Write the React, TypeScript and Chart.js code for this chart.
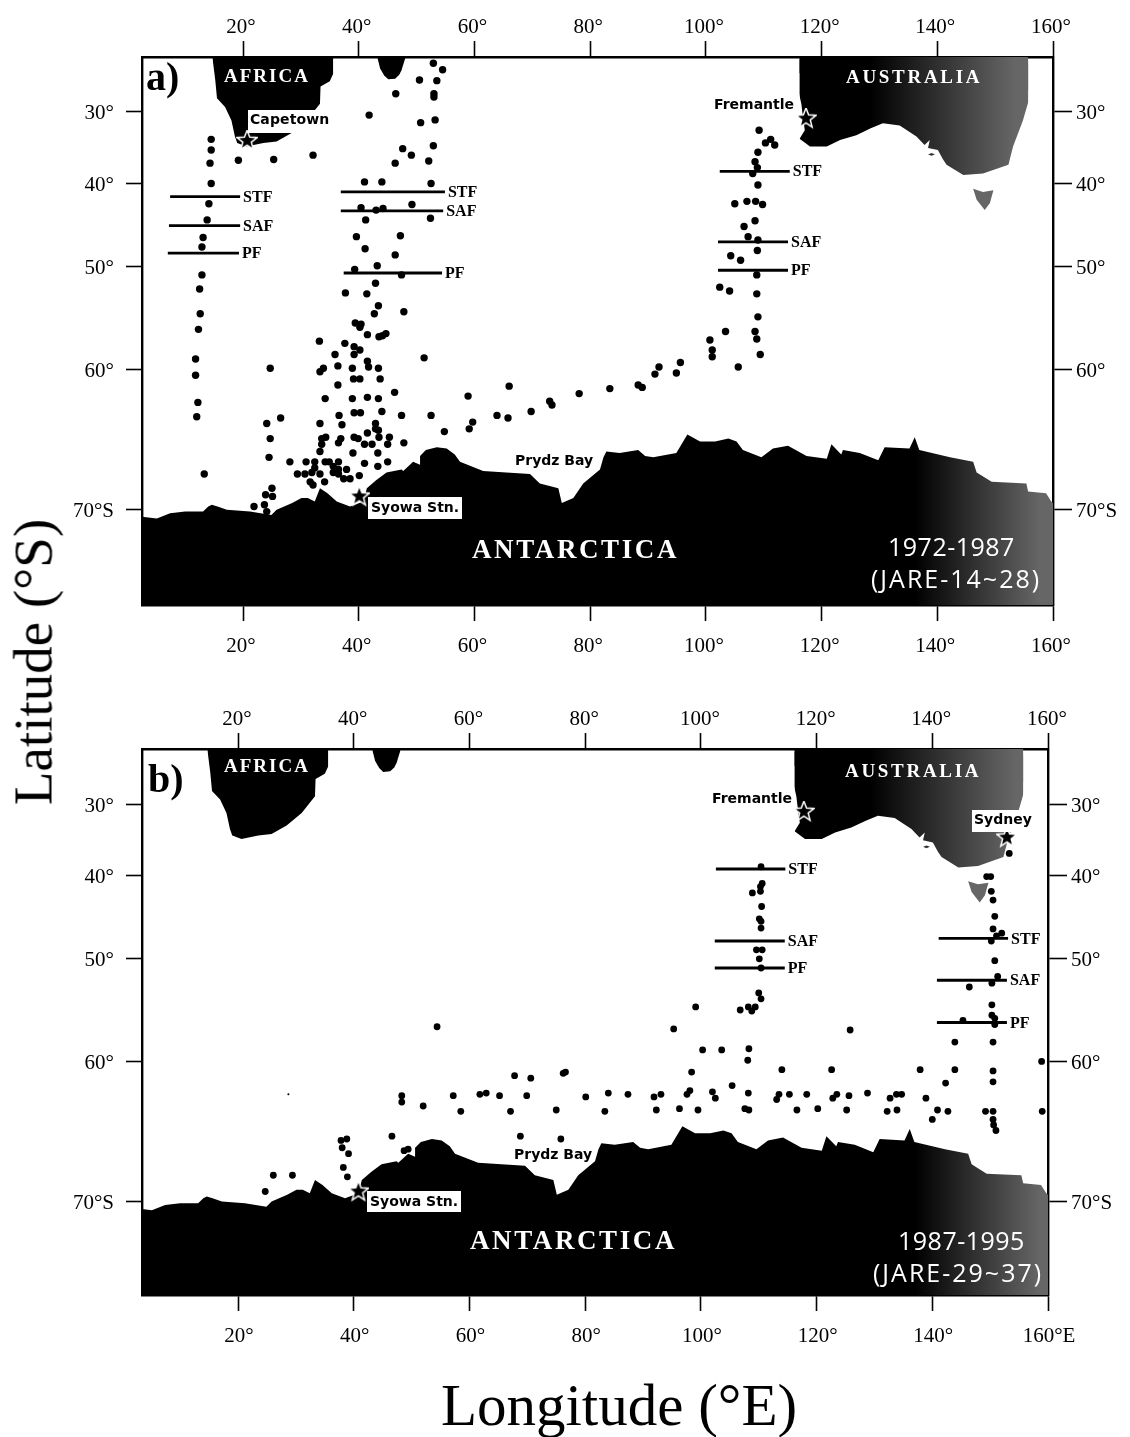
import React, { useEffect, useRef } from "react";
import { Chart, registerables, LinearScale } from "chart.js";

// ---------- tick values ----------
const lonTicks = [20, 40, 60, 80, 100, 120, 140, 160];
const latTicks = [30, 40, 50, 60, 70];

// ---------- coastlines [lon °E, lat °S] ----------
const africa = [[14.7,21.6],[15.2,25.2],[15.5,28.0],[16.9,29.3],[18.0,31.3],[18.6,33.6],[19.0,34.5],[20.6,35.0],[23.5,34.5],[25.8,34.3],[28.4,33.1],[31.0,31.3],[33.3,28.8],[33.4,26.2],[35.0,25.4],[35.6,24.2],[35.6,21.6]];
const madagascar = [[43.2,21.6],[43.7,23.4],[44.4,24.5],[45.1,25.1],[46.3,25.0],[47.0,24.4],[47.4,23.7],[48.1,21.6]];
const australia = [[116.2,21.6],[115.7,24.2],[115.7,25.7],[116.5,28.8],[116.8,31.0],[117.1,32.7],[116.2,33.9],[118.0,35.0],[120.9,35.0],[123.2,34.1],[126.0,33.4],[128.5,32.4],[130.6,31.7],[133.5,32.0],[136.4,33.6],[137.8,34.8],[138.7,34.1],[138.4,35.2],[140.1,35.5],[141.0,36.8],[141.6,37.5],[144.5,38.9],[147.9,38.7],[152.3,37.5],[153.1,35.0],[154.8,31.3],[156.3,26.8],[155.7,21.6]];
const tasmania = [[146.2,40.7],[146.8,42.1],[148.2,43.4],[149.1,42.5],[149.7,40.9],[147.9,41.1],[146.2,40.7]];
const kangaroo = [[138.4,36.1],[139.0,35.9],[139.6,36.1],[139.0,36.3],[138.4,36.1]];
const antarctica = [[2.5,70.4],[5.1,70.5],[7.4,70.2],[10.0,70.1],[13.1,70.1],[14.0,69.8],[14.6,69.7],[15.6,69.8],[17.2,70.0],[21.2,70.1],[24.9,70.3],[25.8,70.0],[28.5,69.6],[30.1,69.3],[31.2,69.3],[32.4,69.5],[33.3,68.7],[34.6,69.0],[36.2,69.5],[38.5,69.8],[40.8,69.5],[41.4,68.7],[43.0,68.2],[44.8,67.7],[47.4,67.5],[47.7,67.6],[49.4,67.0],[50.6,67.2],[50.6,66.6],[51.6,66.2],[53.5,66.0],[55.2,66.1],[56.6,66.5],[57.5,67.0],[61.5,67.6],[65.5,67.7],[69.6,67.8],[71.3,68.4],[74.5,68.7],[75.1,69.6],[77.1,69.3],[78.8,68.4],[81.7,67.5],[82.3,66.7],[82.8,66.3],[85.1,66.4],[88.3,66.2],[89.5,66.6],[90.9,66.7],[94.9,66.4],[96.8,65.1],[99.0,65.6],[101.6,65.6],[103.9,65.4],[105.3,65.6],[106.4,66.2],[109.6,66.7],[111.6,66.1],[114.2,65.9],[117.4,66.6],[120.9,66.8],[121.7,65.8],[123.4,66.5],[123.7,66.2],[126.6,66.4],[129.8,66.9],[130.9,66.0],[135.2,66.1],[136.1,65.3],[136.9,66.2],[142.2,66.7],[146.2,67.0],[146.8,67.7],[149.4,68.3],[155.4,68.4],[155.7,68.9],[158.8,69.0],[159.7,69.5],[160.0,69.6]];

// ---------- panel a) stations 1972-1987 ----------
const westTrackA = [[14.5,34.0],[14.5,35.5],[14.3,37.3],[14.5,40.0],[14.1,42.6],[13.8,44.6],[13.1,46.7],[12.9,47.8],[12.9,50.9],[12.5,52.4],[12.6,54.9],[12.3,56.4],[11.8,59.1],[11.8,60.5],[12.2,62.7],[12.0,63.8],[13.3,67.8]];
const capeTrackA = [[19.2,36.9],[25.3,36.8],[32.1,36.2]];
const centralNorthA = [[52.9,22.6],[54.5,23.6],[50.5,25.2],[53.5,25.3],[46.4,27.3],[53.0,27.3],[53.0,27.8],[41.8,30.5],[50.7,31.6],[53.2,31.2],[47.6,35.3],[52.9,34.9],[49.1,36.2],[46.3,37.3],[52.1,37.0],[41.0,39.8],[44.0,39.8],[52.5,40.0],[49.2,42.7],[40.4,43.1],[43.0,43.4],[44.2,43.2],[41.2,44.6],[52.4,44.4],[39.6,46.6],[47.2,46.5],[41.1,48.0],[46.3,48.7],[39.3,50.3],[43.2,49.9],[47.4,50.9],[42.9,51.8],[37.7,52.8],[41.4,52.9],[43.4,54.1],[42.7,54.9],[47.8,54.7],[39.4,55.8],[40.4,55.9],[40.2,56.2],[41.5,56.9],[43.5,57.1],[44.1,57.0],[44.7,56.8]];
const centralSouthA = [[33.2,57.5],[37.6,57.7],[39.2,58.0],[40.2,58.3],[39.2,58.7],[35.9,58.7],[41.5,59.3],[41.7,59.8],[36.4,59.7],[38.9,59.9],[43.4,59.9],[33.9,59.9],[33.3,60.2],[39.1,60.8],[40.2,60.8],[43.7,60.8],[36.4,61.3],[51.3,59.0],[46.2,61.9],[34.2,62.4],[38.9,62.4],[41.5,62.3],[43.4,62.4],[39.2,63.5],[40.3,63.5],[44.0,63.4],[36.6,63.7],[47.4,63.7],[26.5,63.9],[24.7,59.9],[24.1,64.3],[33.3,64.3],[37.1,64.4],[42.9,64.3],[42.9,64.7],[41.5,65.0],[43.4,64.8],[43.5,65.3],[34.3,65.3],[33.6,65.4],[33.6,65.8],[36.9,65.4],[36.5,65.7],[39.2,65.3],[39.9,65.4],[45.3,65.3],[45.0,65.8],[47.8,65.7],[41.0,65.8],[42.3,65.8],[24.7,65.4],[33.3,66.3],[39.0,66.4],[43.3,66.4],[24.5,66.7]];
const shelfA = [[45.0,67.0],[41.0,67.1],[43.3,67.3],[28.1,67.0],[30.9,67.0],[32.4,67.0],[32.4,67.4],[34.2,67.0],[34.9,67.0],[36.5,67.0],[35.6,67.3],[36.5,67.5],[35.6,67.7],[36.5,67.8],[37.9,67.5],[37.4,68.1],[38.5,68.1],[40.1,67.9],[29.4,67.8],[30.7,67.8],[31.9,67.7],[33.3,67.8],[31.6,68.3],[32.1,68.5],[34.1,68.3],[25.0,68.7],[23.9,69.1],[25.1,69.2],[21.9,69.8],[23.7,69.7],[24.1,70.1]];
const crossingA = [[52.5,63.7],[54.8,64.9],[58.9,62.2],[59.7,64.2],[59.1,64.7],[63.9,63.7],[65.8,63.9],[66.0,61.4],[69.8,63.4],[73.0,62.6],[73.4,62.9],[78.1,62.0],[83.4,61.6],[88.3,61.3],[89.0,61.5],[91.2,60.4],[91.9,59.8],[94.9,60.3],[95.6,59.4]];
const eastTrackA = [[109.2,32.7],[110.3,34.5],[111.2,34.0],[111.9,34.8],[109.0,35.8],[108.5,37.1],[108.9,37.9],[108.1,38.7],[109.0,40.2],[105.0,42.6],[107.1,42.3],[108.6,42.3],[109.8,42.7],[106.6,45.4],[108.5,44.7],[107.3,46.6],[109.0,47.0],[108.9,48.2],[104.3,48.8],[106.0,49.3],[108.8,50.9],[102.4,52.2],[104.1,52.6],[108.8,52.9],[109.0,55.2],[103.4,56.6],[108.5,56.6],[108.8,57.3],[100.7,57.4],[101.1,58.3],[101.1,58.9],[109.4,58.7],[105.6,59.8]];

// ---------- panel b) stations 1987-1995 ----------
const midTrackB = [[110.4,38.8],[110.6,41.0],[110.3,41.4],[110.3,42.0],[108.9,42.2],[110.5,43.9],[110.1,45.4],[110.4,45.7],[110.4,46.5],[109.6,49.0],[110.6,49.0],[110.1,50.0],[110.4,51.0],[110.0,53.6],[110.4,54.2],[109.4,55.0],[108.8,55.4],[108.2,55.0],[106.8,55.3],[99.1,55.0],[95.3,57.1],[125.8,57.2]];
const farTrackB = [[153.3,37.0],[149.4,40.1],[150.1,40.1],[150.2,42.0],[150.5,43.1],[150.8,45.1],[150.5,46.6],[152.0,47.1],[151.1,47.4],[150.2,48.0],[150.8,50.2],[151.3,51.9],[150.3,52.6],[146.4,53.0],[150.3,54.8],[150.3,55.8],[150.8,56.1],[150.8,56.7],[145.3,56.3],[143.9,58.3],[150.5,58.3],[143.9,60.7],[150.5,60.8],[150.5,61.7],[142.3,61.8],[158.9,60.0],[137.9,60.7],[138.9,63.0],[140.0,64.6],[140.9,63.9],[142.7,64.0],[149.2,64.0],[150.5,64.0],[150.5,64.6],[150.6,65.0],[151.0,65.4],[159.0,64.0]];
const eastBandB = [[100.3,59.0],[103.6,59.0],[108.3,58.9],[108.1,59.9],[98.4,60.9],[114.0,60.7],[122.6,60.7],[105.4,62.0],[84.0,62.6],[87.4,62.7],[91.9,62.9],[93.1,62.7],[98.1,62.4],[97.6,62.7],[102.0,62.5],[102.5,63.0],[108.2,62.6],[113.5,62.7],[113.1,63.1],[115.3,62.7],[118.3,62.7],[123.5,62.7],[122.8,63.0],[125.6,62.8],[128.8,62.6],[132.7,63.0],[133.8,62.7],[134.7,62.7],[83.4,64.0],[92.3,63.9],[96.3,63.8],[99.5,63.9],[107.6,63.8],[108.3,63.9],[116.6,63.9],[120.2,63.8],[125.2,63.9],[132.2,64.0],[133.9,63.9]];
const westBandB = [[54.4,56.9],[67.8,61.2],[70.6,61.4],[76.2,61.0],[76.6,60.9],[48.3,62.8],[48.3,63.3],[57.2,62.8],[61.8,62.7],[62.9,62.6],[65.2,62.8],[69.9,62.8],[80.1,62.9],[52.0,63.6],[58.5,64.0],[67.1,64.0],[75.0,63.9],[46.6,65.8],[68.8,65.8],[75.8,66.0]];
const syowaB = [[37.8,66.1],[38.8,66.0],[38.0,66.6],[39.1,67.0],[38.2,67.9],[38.9,68.5],[48.7,66.8],[49.4,66.7],[26.1,68.4],[29.4,68.4],[24.7,69.4]];
const specksB = [[28.7,62.7]];

// ---------- fronts: name, lat, lon start, lon end ----------
const frontsA: [string, number, number, number][] = [
  ["STF",41.7,7.4,19.5],["SAF",45.3,7.2,19.5],["PF",48.5,7.0,19.3],
  ["STF",41.1,36.9,54.9],["SAF",43.5,36.9,54.6],["PF",50.7,37.4,54.4],
  ["STF",38.4,102.4,114.5],["SAF",47.2,102.1,114.2],["PF",50.4,102.1,114.2],
];
const frontsB: [string, number, number, number][] = [
  ["STF",39.1,102.6,114.6],["SAF",48.0,102.4,114.5],["PF",51.0,102.4,114.5],
  ["STF",47.7,141.1,153.1],["SAF",52.3,140.8,152.9],["PF",56.5,140.8,152.9],
];
const portsA = [[20.7,34.2],[117.3,31.0],[40.1,69.2]];
const portsB = [[117.8,31.1],[152.9,34.8],[40.8,69.4]];

const rad = Math.PI / 180;
const merc = (lat: number) => Math.log(Math.tan((45 + lat / 2) * rad));

class MercatorScale extends (LinearScale as any) {
  static id = "mercator";
  static defaults = (LinearScale as any).defaults;
  getPixelForValue(v: number) {
    const a = merc(this.min), b = merc(this.max);
    return this.top + ((merc(v) - a) / (b - a)) * (this.bottom - this.top);
  }
}
Chart.register(...registerables, MercatorScale as any);

const SERIF = '"Liberation Serif", serif';
const SANS = '"DejaVu Sans", sans-serif';
const pts = (a: number[][]) => a.map(([x, y]) => ({ x, y }));

function starCanvas() {
  const c = document.createElement("canvas");
  c.width = c.height = 22;
  const g = c.getContext("2d")!;
  g.beginPath();
  for (let i = 0; i < 10; i++) {
    const r = i % 2 ? 3.6 : 8.4;
    const t = -Math.PI / 2 + (i * Math.PI) / 5;
    const x = 11 + r * Math.cos(t), y = 11 + r * Math.sin(t);
    i ? g.lineTo(x, y) : g.moveTo(x, y);
  }
  g.closePath();
  g.lineWidth = 3;
  g.strokeStyle = "#fff";
  g.lineJoin = "miter";
  g.stroke();
  g.fillStyle = "#000";
  g.fill();
  return c;
}

type Txt = { t: string; x: number; y: number; font: string; color?: string; sp?: number; align?: CanvasTextAlign };
type Box = [number, number, number, number];

const mapFont = `bold 14px ${SANS}`;
const annotate = {
  id: "annotate",
  afterDatasetsDraw(chart: any, _a: any, o: any) {
    const g = chart.ctx;
    g.save();
    g.textBaseline = "middle";
    (o.boxes as Box[]).forEach(([x, y, w, h]) => {
      g.fillStyle = "#fff";
      g.fillRect(x, y, w, h);
    });
    (o.fronts as [string, number, number, number][]).forEach(([name, lat, , lon1]) => {
      g.font = `bold 16px ${SERIF}`;
      g.fillStyle = "#000";
      g.textAlign = "left";
      (g as any).letterSpacing = "0px";
      g.fillText(name, chart.scales.x.getPixelForValue(lon1) + 3, chart.scales.y.getPixelForValue(lat) + 1);
    });
    (o.texts as Txt[]).forEach((s) => {
      g.font = s.font;
      g.fillStyle = s.color || "#000";
      g.textAlign = s.align || "left";
      (g as any).letterSpacing = (s.sp || 0) + "px";
      g.fillText(s.t, s.x, s.y);
    });
    g.restore();
  },
};

type Panel = {
  top: number; height: number; areaTop: number; areaBottom: number; areaLeft: number; areaRight: number;
  lonMin: number; latMin: number; latMax: number; lastLabel: string; dot: number; offTop: number; offBottom: number;
  stations: number[][][]; specks: number[][]; fronts: [string, number, number, number][];
  ports: number[][]; boxes: Box[]; texts: Txt[];
};

function build(canvas: HTMLCanvasElement, p: Panel) {
  const ctx = canvas.getContext("2d")!;
  const grad = (x0: number, x1: number) => {
    const g = ctx.createLinearGradient(x0, 0, x1, 0);
    g.addColorStop(0, "#000");
    g.addColorStop(1, "#666");
    return g;
  };
  const land = (a: number[][], fill: any, bg: any) => ({
    data: pts(a), showLine: true, borderWidth: 0, pointRadius: 0, fill, backgroundColor: bg, tension: 0, order: 10,
  });
  const star = starCanvas();
  const tickFont = { family: SERIF, size: 21 };
  const lonAxis = (position: string, tickLen: number, pad: number, h: number, last: string, off: number) => ({
    type: "linear", position, min: p.lonMin, max: 160,
    afterBuildTicks: (s: any) => { s.ticks = lonTicks.map((value) => ({ value })); },
    afterFit: (s: any) => { s.height = h; },
    border: { display: true, width: 2.4, color: "#000" },
    grid: { drawOnChartArea: false, drawTicks: true, tickLength: tickLen, tickWidth: 1.6, color: "#000" },
    ticks: {
      autoSkip: false, maxRotation: 0, padding: pad, color: "#000", font: tickFont, labelOffset: off,
      callback: (v: number) => (v === 160 ? last : v + "°"),
    },
  });
  const latAxis = (position: string, tickLen: number, pad: number, w: number, last: string) => ({
    type: "mercator", position, min: p.latMin, max: p.latMax,
    afterBuildTicks: (s: any) => { s.ticks = latTicks.map((value) => ({ value })); },
    afterFit: (s: any) => { s.width = w; },
    border: { display: true, width: 2.4, color: "#000" },
    grid: { drawOnChartArea: false, drawTicks: true, tickLength: tickLen, tickWidth: 1.6, color: "#000" },
    ticks: {
      autoSkip: false, padding: pad, color: "#000", font: tickFont, labelOffset: 2,
      callback: (v: number) => (v === 70 ? last : v + "°"),
    },
  });
  const datasets: any[] = [
    land(antarctica, "start", grad(915, 1040)),
    land(africa, "end", "#000"),
    land(madagascar, "end", "#000"),
    land(australia, "end", grad(870, 1015)),
    land(tasmania, "shape", "#666"),
    land(kangaroo, "shape", "#333"),
    ...p.stations.map((s) => ({
      data: pts(s), showLine: false, pointRadius: p.dot, pointBorderWidth: 0, pointBackgroundColor: "#000", order: 2,
    })),
    { data: pts(p.specks), showLine: false, pointRadius: 1, pointBorderWidth: 0, pointBackgroundColor: "#000", order: 2 },
    ...p.fronts.map(([, lat, a, b]) => ({
      data: [{ x: a, y: lat }, { x: b, y: lat }], borderColor: "#000", borderWidth: 2.8, pointRadius: 0, tension: 0, order: 3,
    })),
    { data: pts(p.ports), showLine: false, pointStyle: star, pointRadius: 11, order: 1 },
  ];
  return new Chart(canvas, {
    type: "line",
    data: { datasets },
    plugins: [annotate],
    options: {
      animation: false,
      responsive: false,
      devicePixelRatio: 1,
      layout: { padding: 0 },
      plugins: {
        legend: { display: false }, tooltip: { enabled: false }, title: { display: false },
        annotate: { boxes: p.boxes, texts: p.texts, fronts: p.fronts },
      },
      scales: {
        x: lonAxis("bottom", 16, 13, p.height - p.areaBottom, p.lastLabel, p.offBottom),
        x2: lonAxis("top", 16, 1, p.areaTop, "160°", p.offTop),
        y: latAxis("left", 16, 12, p.areaLeft, "70°S"),
        y2: latAxis("right", 19, 4, 1130 - p.areaRight, "70°S"),
      },
    } as any,
  } as any);
}

const white = "#fff";
const bigFont = `bold 19px ${SERIF}`;
const antFont = `bold 27px ${SERIF}`;
const yearFont = `25px "Open Sans", sans-serif`;
const tagFont = `bold 40px ${SERIF}`;

const panelA: Panel = {
  top: 0, height: 690, areaTop: 57, areaBottom: 605, areaLeft: 142, areaRight: 1053,
  lonMin: 2.54, latMin: 21.6, latMax: 74.87, lastLabel: "160°", dot: 3.7, offTop: -2, offBottom: -2,
  stations: [westTrackA, capeTrackA, centralNorthA, centralSouthA, shelfA, crossingA, eastTrackA],
  specks: [], fronts: frontsA, ports: portsA,
  boxes: [[248, 110, 85, 23], [368, 497, 94, 22]],
  texts: [
    { t: "a)", x: 146, y: 80, font: tagFont },
    { t: "AFRICA", x: 224, y: 77, font: bigFont, color: white, sp: 2 },
    { t: "AUSTRALIA", x: 846, y: 78, font: bigFont, color: white, sp: 2.7 },
    { t: "ANTARCTICA", x: 472, y: 551, font: antFont, color: white, sp: 2.6 },
    { t: "1972-1987", x: 888, y: 549, font: yearFont, color: white, sp: 0.5 },
    { t: "(JARE-14~28)", x: 871, y: 581, font: yearFont, color: white, sp: 2 },
    { t: "Capetown", x: 250, y: 120, font: mapFont, sp: 0.1 },
    { t: "Fremantle", x: 714, y: 105, font: mapFont, sp: 0 },
    { t: "Syowa Stn.", x: 371, y: 508, font: mapFont, sp: 0 },
    { t: "Prydz Bay", x: 515, y: 461, font: mapFont, sp: 0 },
  ],
};

const off = 690;
const panelB: Panel = {
  top: off, height: 747, areaTop: 749 - off, areaBottom: 1295 - off, areaLeft: 142, areaRight: 1048,
  lonMin: 3.4, latMin: 21.5, latMax: 74.8, lastLabel: "160°E", dot: 3.4, offTop: -1, offBottom: 1,
  stations: [midTrackB, farTrackB, eastBandB, westBandB, syowaB],
  specks: specksB, fronts: frontsB, ports: portsB,
  boxes: [[367, 1191 - off, 94, 21], [972, 810 - off, 58, 22]],
  texts: [
    { t: "b)", x: 148, y: 782 - off, font: tagFont },
    { t: "AFRICA", x: 224, y: 767 - off, font: bigFont, color: white, sp: 2 },
    { t: "AUSTRALIA", x: 845, y: 772 - off, font: bigFont, color: white, sp: 2.7 },
    { t: "ANTARCTICA", x: 470, y: 1242 - off, font: antFont, color: white, sp: 2.6 },
    { t: "1987-1995", x: 898, y: 1243 - off, font: yearFont, color: white, sp: 0.5 },
    { t: "(JARE-29~37)", x: 873, y: 1275 - off, font: yearFont, color: white, sp: 2 },
    { t: "Fremantle", x: 712, y: 799 - off, font: mapFont, sp: 0 },
    { t: "Sydney", x: 974, y: 820 - off, font: mapFont, sp: 0 },
    { t: "Syowa Stn.", x: 370, y: 1202 - off, font: mapFont, sp: 0 },
    { t: "Prydz Bay", x: 514, y: 1155 - off, font: mapFont, sp: 0 },
  ],
};

export default function App() {
  const a = useRef<HTMLCanvasElement>(null);
  const b = useRef<HTMLCanvasElement>(null);
  useEffect(() => {
    const ca = build(a.current!, panelA);
    const cb = build(b.current!, panelB);
    return () => { ca.destroy(); cb.destroy(); };
  }, []);
  const title: React.CSSProperties = {
    position: "absolute", fontFamily: SERIF, color: "#000", whiteSpace: "nowrap", lineHeight: 1,
  };
  return (
    <div style={{ position: "absolute", left: 0, top: 0, width: 1130, height: 1437, overflow: "hidden", background: "#fff" }}>
      <canvas ref={a} width={1130} height={panelA.height} style={{ position: "absolute", left: 0, top: panelA.top }} />
      <canvas ref={b} width={1130} height={panelB.height} style={{ position: "absolute", left: 0, top: panelB.top }} />
      <div style={{ ...title, fontSize: 55, left: 33, top: 662, transform: "translate(-50%,-50%) rotate(-90deg)" }}>Latitude (°S)</div>
      <div style={{ ...title, fontSize: 59, left: 619, top: 1405, transform: "translateX(-50%) translateY(-50%)" }}>Longitude (°E)</div>
    </div>
  );
}
